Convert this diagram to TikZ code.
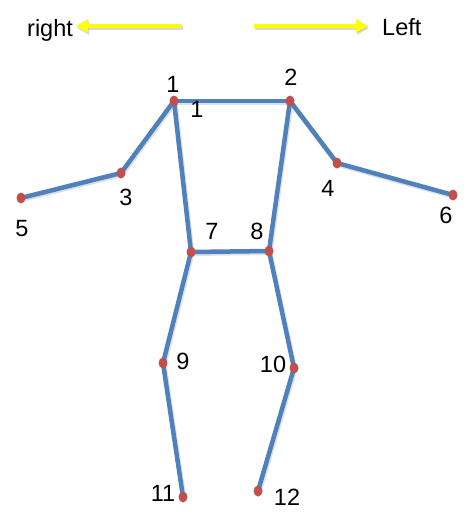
\documentclass[tikz,border=0pt]{standalone}
\usepackage{fontspec}
\setmainfont{Liberation Sans}
\usetikzlibrary{arrows.meta,shapes.geometric}
\definecolor{bone}{RGB}{79,129,189}
\definecolor{joint}{RGB}{192,80,77}
\definecolor{arr}{RGB}{255,255,0}
\tikzset{
  bonel/.style={draw=bone,line width=4.5pt,line cap=round},
  bshadow/.style={draw=black,opacity=0.12,line width=5pt,line cap=round},
  jointdot/.style={ellipse,fill=joint,minimum width=9pt,minimum height=11pt,inner sep=0pt},
  lbl/.style={inner sep=0pt,font=\fontsize{23.5}{26}\selectfont},
  dirarrow/.style={draw=arr,line width=4pt,-{Triangle[length=12pt,width=13pt]}},
  arrshadow/.style={draw=black,opacity=0.15,line width=4pt,-{Triangle[length=12pt,width=13pt]}},
}
\begin{document}
\begin{tikzpicture}[x=1pt,y=-1pt]
\useasboundingbox (0,0) rectangle (470,527);
% joints
\coordinate (p1) at (174,101);
\coordinate (p2) at (290,101);
\coordinate (p3) at (121,173);
\coordinate (p4) at (337,163);
\coordinate (p5) at (21,198);
\coordinate (p6) at (453,195);
\coordinate (p7) at (191,252);
\coordinate (p8) at (269,251);
\coordinate (p9) at (163,363);
\coordinate (p10) at (294,368);
\coordinate (p11) at (183,497);
\coordinate (p12) at (258,491);
% direction arrows
\coordinate (ra) at (182,26);
\coordinate (rb) at (76,26);
\coordinate (la) at (254,26);
\coordinate (lb) at (368,26);
\draw[arrshadow] ([shift={(1,2)}]ra) -- ([shift={(1,2)}]rb);
\draw[arrshadow] ([shift={(1,2)}]la) -- ([shift={(1,2)}]lb);
\draw[dirarrow] (ra) -- (rb);
\draw[dirarrow] (la) -- (lb);
\node[lbl,anchor=base west] (tright) at (27,37) {right};
\node[lbl,anchor=base west] (tleft) at (382,36) {Left};
% bone shadows
\foreach \a/\b in {p1/p2,p1/p3,p3/p5,p2/p4,p4/p6,p1/p7,p2/p8,p7/p8,p7/p9,p9/p11,p8/p10,p10/p12}
  \draw[bshadow] ([shift={(1,1.5)}]\a) -- ([shift={(1,1.5)}]\b);
% bones
\foreach \a/\b in {p1/p2,p1/p3,p3/p5,p2/p4,p4/p6,p1/p7,p2/p8,p7/p8,p7/p9,p9/p11,p8/p10,p10/p12}
  \draw[bonel] (\a) -- (\b);
% joint dots
\foreach \i in {1,...,12}
  \node[jointdot] (d\i) at (p\i) {};
% labels
\node[lbl] (l1) at (173,84) {1};
\node[lbl] (l1b) at (197,109) {1};
\node[lbl] (l2) at (291,77) {2};
\node[lbl] (l3) at (126,197) {3};
\node[lbl] (l4) at (328,188) {4};
\node[lbl] (l5) at (22,229) {5};
\node[lbl] (l6) at (446,215) {6};
\node[lbl] (l7) at (212,231) {7};
\node[lbl] (l8) at (257,231) {8};
\node[lbl] (l9) at (183,361) {9};
\node[lbl] (l10) at (273,364) {10};
\node[lbl] (l11) at (163,493) {11};
\node[lbl] (l12) at (287,497) {12};
\end{tikzpicture}
\end{document}
